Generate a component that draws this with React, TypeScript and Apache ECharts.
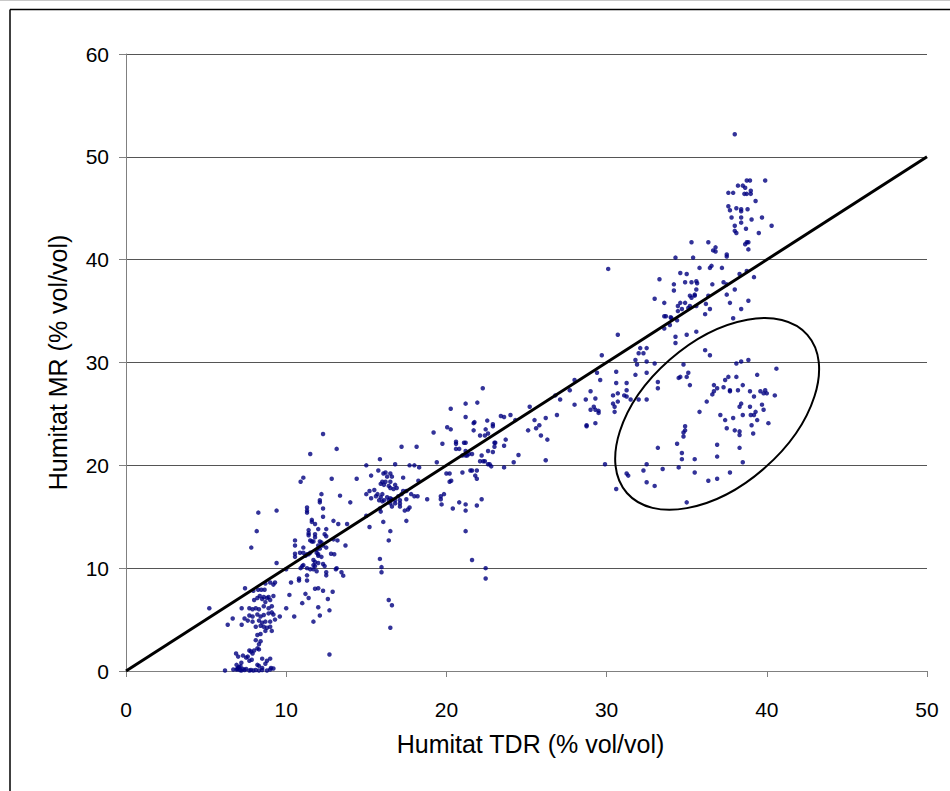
import { useEffect, useRef } from 'react';
import * as echarts from 'echarts';

// ---- data (x = Humitat TDR, y = Humitat MR) ----
const cluster1: [number, number][] = [
  [5.2, 6.1], [7.43, 8.05], [7.82, 12.0], [8.16, 13.6], [8.26, 15.4], [9.4, 15.6], [9.4, 10.5],
  [8.7, 8.5], [9.0, 8.6], [9.3, 8.6], [9.2, 8.4],
  [7.95, 7.8], [8.25, 7.9], [8.45, 7.9], [8.65, 7.9],
  [8.35, 7.3], [8.6, 7.2], [8.9, 7.2], [9.2, 7.3],
  [8.0, 6.9], [8.2, 7.1], [8.5, 7.0], [8.8, 7.1], [9.0, 6.9], [8.7, 6.7],
  [7.7, 6.1], [7.9, 6.0], [8.1, 6.1], [8.3, 6.0], [8.6, 6.3], [8.9, 6.1], [9.1, 6.3], [7.22, 6.1],
  [7.7, 5.4], [7.9, 5.3], [8.2, 5.5], [8.4, 5.3], [8.6, 5.45], [8.9, 5.6], [9.1, 5.7], [9.2, 5.5],
  [7.4, 5.1], [7.6, 4.9], [7.9, 4.8], [8.3, 4.9], [8.5, 4.7], [8.7, 4.8], [9.0, 4.8], [9.3, 5.0], [9.6, 5.3],
  [6.35, 4.5], [6.66, 5.1], [7.22, 4.5],
  [8.1, 4.3], [8.4, 4.4], [8.6, 4.3], [8.8, 4.2], [9.0, 4.3],
  [8.4, 3.6], [8.2, 3.5], [8.7, 3.9], [9.1, 3.9],
  [8.1, 3.0], [8.4, 2.9], [8.3, 2.6], [8.2, 2.2], [8.3, 2.1], [8.0, 2.0],
  [7.7, 2.0], [7.8, 1.9], [7.9, 1.7], [7.3, 1.5], [7.5, 1.3], [7.6, 1.4], [7.85, 1.1], [7.7, 1.0],
  [8.5, 1.2], [8.8, 1.0], [9.0, 1.2], [8.7, 0.7], [8.2, 0.6], [8.3, 0.5], [8.5, 0.3], [9.05, 0.3], [9.2, 0.25],
  [6.18, 0.05], [6.7, 0.15], [6.9, 0.15], [7.0, 0.3], [7.1, 0.1], [7.2, 0.05], [7.3, 0.2], [7.4, 0.1],
  [7.5, 0.2], [7.7, 0.05], [7.8, 0.1], [7.95, 0.05], [8.1, 0.1], [8.3, 0.05], [8.5, 0.1], [8.8, 0.05], [9.0, 0.15],
  [6.87, 1.7], [7.0, 1.4], [6.9, 0.6], [7.2, 0.8], [7.05, 0.4], [6.95, 0.2], [7.15, 0.45],
];

const cluster2: [number, number][] = [
  [12.3, 23.05], [11.5, 21.1], [13.15, 21.6], [10.9, 18.4], [11.07, 18.8],
  [11.3, 15.9], [11.3, 15.6], [11.3, 15.4], [12.1, 16.4], [12.3, 15.8],
  [11.6, 14.7], [11.6, 14.5], [11.8, 14.3], [12.3, 15.0], [12.95, 14.6], [13.25, 14.3],
  [11.4, 13.7], [11.4, 13.4], [11.4, 13.2], [12.0, 13.8], [12.5, 13.8], [11.8, 13.3], [11.8, 13.0], [12.4, 13.3], [12.5, 13.1],
  [10.55, 12.7], [10.55, 12.2], [11.5, 12.7], [11.6, 12.6], [11.7, 12.6], [12.1, 12.6], [12.2, 12.5], [12.3, 12.2], [12.95, 12.8],
  [11.07, 12.0], [10.86, 11.5], [11.07, 11.5], [12.0, 12.2], [12.1, 11.9], [11.9, 11.8], [12.5, 12.0],
  [11.3, 11.35], [11.2, 11.2], [11.4, 11.35], [11.5, 11.5], [11.9, 11.5], [12.0, 11.35], [12.0, 11.2], [12.2, 11.1], [12.8, 11.4], [13.0, 11.35],
  [13.7, 12.2], [10.55, 11.4], [10.55, 11.1], [13.8, 14.3],
  [11.7, 10.8], [11.8, 10.6], [11.7, 10.3], [11.8, 10.2], [12.0, 10.5], [12.3, 10.4], [12.4, 10.2],
  [11.07, 10.3], [11.0, 10.2], [10.9, 10.0], [11.3, 10.0],
  [11.5, 9.9], [11.7, 9.9], [11.9, 9.7], [12.5, 9.6], [12.5, 9.3], [13.15, 10.0], [13.1, 9.9], [13.45, 9.6], [13.56, 9.27],
  [11.3, 9.3], [11.3, 8.8], [10.8, 8.8], [10.0, 9.9], [10.8, 9.0], [10.0, 6.1], [10.2, 7.4], [10.5, 5.3],
  [12.9, 7.7], [12.7, 1.6], [13.2, 12.7], [12.7, 5.9], [12.1, 5.4], [12.0, 8.05], [12.0, 6.2], [11.7, 4.8],
  [10.3, 8.6], [11.2, 7.5], [11.4, 7.1], [11.8, 8.0], [12.3, 7.8], [12.6, 7.0], [11.0, 6.6],
  [13.36, 17.05], [12.84, 18.7], [12.2, 17.2], [12.1, 16.6],
];

const cluster3: [number, number][] = [
  [15.0, 20.0], [15.85, 20.6], [16.8, 20.1], [17.2, 21.8], [18.14, 21.8],
  [14.4, 18.7], [15.3, 19.0], [15.75, 19.5], [16.07, 19.2], [16.2, 19.3], [16.3, 18.9], [16.5, 19.2], [16.6, 18.9], [17.3, 18.8],
  [17.7, 20.0], [18.0, 20.0], [18.3, 19.8], [18.25, 18.5],
  [16.0, 18.4], [15.9, 18.2], [16.2, 18.4], [16.1, 18.1], [16.4, 18.0], [16.5, 18.4], [16.5, 17.8], [16.8, 18.1], [16.9, 17.8], [16.7, 17.7],
  [15.5, 17.6], [15.2, 17.5], [15.7, 17.2], [15.6, 17.0], [15.0, 17.2], [15.3, 16.8],
  [16.0, 17.2], [15.9, 16.9], [15.8, 16.6], [16.0, 16.5], [16.1, 16.6],
  [16.3, 16.9], [16.4, 16.6], [16.5, 16.8], [16.5, 16.3],
  [16.6, 16.7], [16.8, 16.6], [16.8, 16.3], [16.6, 16.0],
  [17.0, 17.0], [17.1, 16.6], [17.2, 17.2], [17.3, 17.5], [17.1, 16.3], [17.1, 16.0],
  [17.5, 17.5], [17.8, 17.2], [18.0, 17.0], [18.2, 17.0], [17.5, 16.7], [18.8, 16.7],
  [17.7, 15.9], [17.6, 15.7], [17.4, 15.6], [17.5, 14.6],
  [14.0, 16.4], [15.85, 15.8], [15.9, 15.5], [15.0, 15.1], [15.2, 14.0], [16.06, 14.5], [16.5, 13.6], [16.4, 12.7],
  [15.85, 10.9], [15.95, 10.1], [15.95, 9.6], [16.4, 6.9], [16.6, 6.4], [16.5, 4.2],
];

const cluster4: [number, number][] = [
  [22.27, 27.5], [20.27, 25.5], [21.2, 26.0], [21.93, 26.1], [21.2, 24.7], [23.4, 24.8], [23.6, 24.7], [22.55, 24.35],
  [22.9, 24.0], [22.9, 23.8], [21.7, 24.1], [21.75, 24.2],
  [20.05, 23.7], [20.27, 23.5], [21.7, 23.4], [19.2, 23.2], [22.45, 23.5],
  [22.1, 22.9], [22.4, 22.9], [22.6, 23.1], [23.05, 22.2], [23.0, 22.2], [20.6, 22.3], [20.6, 22.1], [19.75, 22.1], [23.6, 21.9], [21.2, 22.2], [21.1, 22.2],
  [20.6, 21.6], [20.8, 21.6], [21.2, 21.4], [21.4, 21.1], [21.3, 20.95], [21.0, 20.95], [21.2, 20.95],
  [21.6, 21.1], [22.2, 20.95], [22.6, 21.4], [23.0, 21.8], [22.9, 21.3],
  [22.1, 20.4], [22.3, 20.4], [22.4, 20.4], [22.6, 20.1], [22.7, 20.1], [22.8, 19.9],
  [24.2, 20.3], [23.6, 19.8], [21.9, 19.5], [21.6, 19.5], [21.5, 19.5], [21.8, 19.0], [21.9, 18.7],
  [21.0, 19.3], [20.2, 19.2], [20.0, 19.2], [20.3, 18.5], [20.2, 18.4], [19.4, 20.3],
  [19.85, 17.2], [19.65, 16.7], [19.65, 17.0], [20.8, 16.4], [21.2, 16.2], [21.9, 16.1], [22.2, 16.7],
  [19.7, 16.2], [20.4, 15.8], [21.2, 15.6], [21.2, 13.6], [21.6, 10.8], [22.45, 10.0], [22.45, 9.0],
];

const cluster5: [number, number][] = [
  [25.2, 25.7], [25.5, 24.4], [25.1, 23.4], [25.8, 23.9], [26.2, 24.6], [26.3, 22.5], [26.9, 24.9], [27.1, 26.4],
  [24.5, 21.0], [24.3, 24.4], [24.0, 24.9], [26.8, 26.8], [28.0, 25.9], [28.0, 28.3], [27.7, 27.3], [28.7, 26.4],
  [26.2, 20.5], [23.7, 22.5], [25.6, 23.6], [25.9, 22.9],
];

const cluster6: [number, number][] = [
  [30.1, 39.1], [30.7, 32.7], [29.7, 30.7], [32.1, 31.4], [32.5, 31.4], [32.0, 30.9], [32.3, 30.9],
  [31.8, 30.25], [31.9, 29.8], [32.5, 30.1], [33.0, 29.9],
  [30.6, 29.1], [31.8, 28.8], [32.5, 29.0], [29.4, 29.0], [29.6, 28.3], [30.6, 28.0], [31.25, 28.0],
  [31.25, 27.3], [30.7, 27.0], [30.4, 26.8], [31.1, 26.8], [31.25, 26.7], [31.5, 26.4], [32.0, 26.4], [32.5, 26.4],
  [29.0, 27.2], [29.3, 26.5], [30.4, 26.0], [30.7, 26.2], [30.5, 25.7], [30.5, 25.2],
  [29.0, 25.4], [29.2, 25.7], [29.3, 25.4], [29.5, 25.1], [29.5, 25.3],
  [28.75, 23.9], [28.75, 23.8], [29.3, 24.1],
  [29.9, 20.1], [31.25, 19.2], [31.35, 19.0], [30.6, 17.7],
];

const cluster7: [number, number][] = [
  [35.3, 41.7], [36.35, 41.7], [36.8, 41.2], [36.65, 40.9], [36.8, 40.8], [37.5, 40.5], [37.5, 40.3], [34.3, 40.2], [35.4, 40.2],
  [35.8, 39.2], [36.45, 39.2], [36.55, 39.4], [37.2, 39.2], [38.75, 38.9], [34.6, 38.7], [35.0, 38.6], [38.3, 38.6], [39.2, 38.3], [33.3, 38.1],
  [35.6, 37.9], [35.65, 37.7], [34.2, 37.6], [34.2, 37.0], [34.9, 37.8], [35.3, 37.8], [36.6, 37.6], [37.3, 37.8], [37.5, 37.6], [35.6, 37.1],
  [35.2, 36.5], [35.3, 36.3], [35.5, 36.5], [35.5, 36.6], [36.35, 36.5], [37.5, 36.6], [38.0, 37.1],
  [33.0, 36.2], [33.6, 35.8], [34.6, 35.8], [34.45, 35.5], [34.7, 35.2], [34.45, 35.0], [34.9, 35.8], [35.2, 35.5],
  [35.6, 35.5], [36.2, 35.7], [37.7, 35.8], [38.85, 36.0], [38.4, 35.2], [36.15, 34.7], [36.45, 35.2], [35.1, 35.3],
  [33.6, 34.5], [33.7, 34.5], [34.0, 34.4], [37.9, 34.3], [34.05, 34.3], [34.4, 34.1], [33.95, 33.65], [33.6, 33.3],
  [35.0, 32.7], [35.6, 33.0], [34.3, 32.5], [34.3, 31.9], [36.15, 31.2], [36.45, 30.7],
];

const cluster8: [number, number][] = [
  [38.0, 52.2], [38.75, 47.7], [38.95, 47.7], [39.9, 47.7], [38.2, 47.2], [38.5, 47.2], [38.65, 47.0],
  [37.6, 46.5], [37.9, 46.5], [38.6, 46.4], [38.75, 46.4], [39.0, 46.7], [39.0, 46.4], [39.3, 45.7],
  [37.6, 45.2], [37.7, 44.8], [38.1, 45.0], [38.4, 44.9], [38.4, 44.7], [38.8, 44.9],
  [37.8, 44.1], [38.4, 44.1], [38.4, 43.6], [39.05, 43.9], [39.7, 44.1], [40.3, 43.3],
  [38.0, 43.3], [38.0, 42.8], [38.1, 42.6], [38.7, 43.0], [39.5, 42.6],
  [38.75, 41.7], [38.85, 41.7], [38.65, 41.5], [38.85, 41.0],
];

const cluster9: [number, number][] = [
  [34.8, 29.8], [34.5, 28.5], [34.6, 28.6], [35.0, 28.6], [35.1, 29.0], [35.2, 27.8], [33.2, 28.1], [33.2, 27.5],
  [38.1, 29.9], [38.4, 30.1], [38.85, 30.25], [40.6, 29.4], [39.4, 28.8], [37.6, 28.6], [38.1, 28.6],
  [37.4, 28.3], [37.3, 27.6], [36.9, 27.5], [36.7, 27.8], [36.6, 26.9], [36.7, 27.2], [36.25, 26.2],
  [37.7, 27.3], [37.7, 27.2], [38.2, 27.3], [38.5, 27.8],
  [38.95, 27.2], [39.2, 26.7], [39.6, 27.2], [39.9, 27.3], [39.8, 27.0], [40.0, 27.0], [40.5, 26.8],
  [38.4, 26.0], [38.3, 25.7], [38.95, 25.7], [39.7, 25.9], [39.3, 25.2], [39.2, 24.9], [39.0, 24.9], [39.8, 25.4],
  [37.1, 24.9], [37.4, 24.4], [37.9, 24.6], [38.5, 24.9], [39.4, 24.4], [40.1, 24.1],
  [37.5, 23.6], [38.0, 23.4], [38.3, 23.3], [38.3, 22.95], [39.05, 23.9], [39.15, 23.1],
  [35.8, 25.2], [34.9, 23.8], [34.9, 23.4], [34.8, 23.2], [34.8, 22.8],
  [34.4, 22.1], [36.9, 22.0], [38.3, 21.7], [33.2, 21.7],
  [34.7, 21.2], [34.7, 20.6], [35.5, 20.6], [36.9, 20.85], [38.5, 20.3],
  [34.5, 19.8], [33.5, 19.65], [32.5, 20.1], [32.3, 19.5], [35.5, 19.3], [37.7, 19.3],
  [32.5, 18.35], [33.0, 18.0], [36.35, 18.5], [36.9, 18.7], [35.0, 16.4],
];

const oneToOneLine: [number, number][] = [[0, 0], [50, 50]];
const ellipseCenter: [number, number] = [36.9, 25.0];

const xTitle = 'Humitat TDR (% vol/vol)';
const yTitle = 'Humitat MR (% vol/vol)';

const FONT = '"Liberation Sans", Arial, sans-serif';

export default function App() {
  const ref = useRef<HTMLDivElement>(null);
  useEffect(() => {
    const chart = echarts.init(ref.current!, null, { renderer: 'svg' });
    const points = [
      ...cluster1, ...cluster2, ...cluster3, ...cluster4, ...cluster5,
      ...cluster6, ...cluster7, ...cluster8, ...cluster9,
    ];
    chart.setOption({
      animation: false,
      backgroundColor: '#ffffff',
      grid: { left: 126, right: 23, top: 54, bottom: 120, containLabel: false },
      xAxis: {
        type: 'value', min: 0, max: 50, interval: 10,
        name: xTitle, nameLocation: 'middle', nameGap: 60,
        nameTextStyle: { fontFamily: FONT, fontSize: 25, color: '#000', padding: [0, 0, 0, 8] },
        axisLine: { show: true, lineStyle: { color: '#808080', width: 1 } },
        axisTick: { show: true, inside: false, length: 6, lineStyle: { color: '#808080' } },
        axisLabel: { fontFamily: FONT, fontSize: 21, color: '#000', margin: 28 },
        splitLine: { show: false },
      },
      yAxis: {
        type: 'value', min: 0, max: 60, interval: 10,
        name: yTitle, nameLocation: 'middle', nameGap: 56,
        nameTextStyle: { fontFamily: FONT, fontSize: 25, color: '#000' },
        axisLine: { show: true, lineStyle: { color: '#808080', width: 1 } },
        axisTick: { show: true, inside: false, length: 7, lineStyle: { color: '#808080' } },
        axisLabel: { fontFamily: FONT, fontSize: 21, color: '#000', margin: 17 },
        splitLine: { show: true, lineStyle: { color: '#555555', width: 1 } },
      },
      series: [
        {
          type: 'scatter', data: points, symbol: 'circle', symbolSize: 4.5,
          itemStyle: { color: '#00007f' }, silent: true,
        },
        {
          type: 'line', data: oneToOneLine, symbol: 'none', silent: true,
          lineStyle: { color: '#000000', width: 3 }, z: 3,
        },
      ],
    });
    const c = chart.convertToPixel({ gridIndex: 0 }, ellipseCenter) as number[];
    chart.setOption({
      graphic: [
        { id: 'topGray', type: 'line', shape: { x1: 0, y1: 0.5, x2: 950, y2: 0.5 }, style: { stroke: '#c8c8c8', lineWidth: 1 }, silent: true },
        { id: 'frameTop', type: 'line', shape: { x1: 10, y1: 9.5, x2: 950, y2: 9.5 }, style: { stroke: '#000', lineWidth: 1.5 }, silent: true },
        { id: 'frameLeft', type: 'line', shape: { x1: 10, y1: 9.5, x2: 10, y2: 791 }, style: { stroke: '#000', lineWidth: 1.5 }, silent: true },
        {
          id: 'ellipse', type: 'ellipse', x: c[0], y: c[1], rotation: 0.72,
          shape: { cx: 0, cy: 0, rx: 120, ry: 72 },
          style: { fill: 'none', stroke: '#000', lineWidth: 2 }, silent: true, z: 10,
        },
      ],
    });
    return () => chart.dispose();
  }, []);
  return <div ref={ref} style={{ position: 'absolute', left: 0, top: 0, width: 950, height: 791 }} />;
}
